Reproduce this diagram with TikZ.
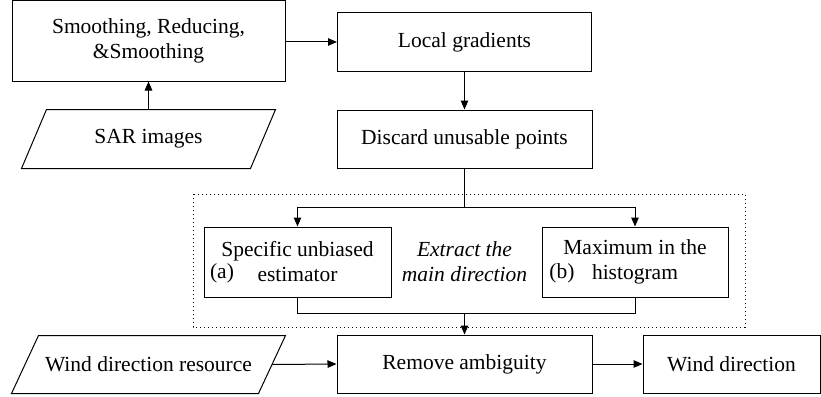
\documentclass[tikz,border=0pt]{standalone}
\usepackage{fontspec}
\setmainfont{Liberation Serif}
\usepackage{tikz}
\usetikzlibrary{arrows.meta}

\begin{document}
\begin{tikzpicture}[x=1pt, y=-1pt, line width=1pt,
  every node/.style={font=\fontsize{21.5}{25}\selectfont},
  box/.style={draw, rectangle, inner sep=0pt, align=center},
  databox/.style={rectangle, inner sep=0pt, align=center},
  arr/.style={-{Triangle[length=9pt,width=7.5pt]}}]
\useasboundingbox (0,0) rectangle (821,396);
\node [box, minimum width=273pt, minimum height=80pt] (smooth) at (148.5,41) {Smoothing, Reducing,\\\&Smoothing};
\node [databox, minimum width=253pt, minimum height=58pt] (sar) at (148.5,139) {SAR images};
\node [box, minimum width=254pt, minimum height=58pt] (local) at (464.5,42) {Local gradients};
\node [box, minimum width=255pt, minimum height=58pt] (disc) at (464.5,139) {Discard unusable points};
\node [box, minimum width=187pt, minimum height=70pt] (sa) at (297.5,262) {Specific unbiased\\estimator};
\node [box, minimum width=186pt, minimum height=70pt] (mb) at (635,262) {Maximum in the\\histogram};
\node (la) at (222,273) {(a)};
\node (lb) at (562,273) {(b)};
\node [align=center, font=\fontsize{21.5}{25}\selectfont\itshape] (extract) at (464.5,262) {Extract the\\main direction};
\node [databox, minimum width=273pt, minimum height=57pt] (res) at (148.5,364.5) {Wind direction resource};
\node [box, minimum width=255pt, minimum height=58pt] (rem) at (464.5,364) {Remove ambiguity};
\node [box, minimum width=177pt, minimum height=58pt] (wind) at (731.5,364) {Wind direction};
% input parallelograms
\draw ([xshift=25pt]sar.north west) -- (sar.north east) -- ([xshift=-25pt]sar.south east) -- (sar.south west) -- cycle;
\draw ([xshift=27pt]res.north west) -- (res.north east) -- ([xshift=-27pt]res.south east) -- (res.south west) -- cycle;
% dotted frame
\draw [dash pattern=on 1pt off 3pt] (193,194) rectangle (745,327);
\coordinate (split) at (464.5,207);
\coordinate (merge) at (464.5,313);
\draw [arr] (sar.north) -- (smooth.south);
\draw [arr] (smooth.east |- local.west) -- (local.west);
\draw [arr] (local.south) -- (disc.north);
\draw (disc.south) -- (split);
\draw [arr] (split) -| (sa.north);
\draw [arr] (split) -| (mb.north);
\draw (sa.south) |- (merge);
\draw (mb.south) |- (merge);
\draw [arr] (merge) -- (rem.north);
\draw [arr] ([xshift=-13.5pt]res.east) -- (rem.west);
\draw [arr] (rem.east) -- (wind.west);
\end{tikzpicture}
\end{document}
